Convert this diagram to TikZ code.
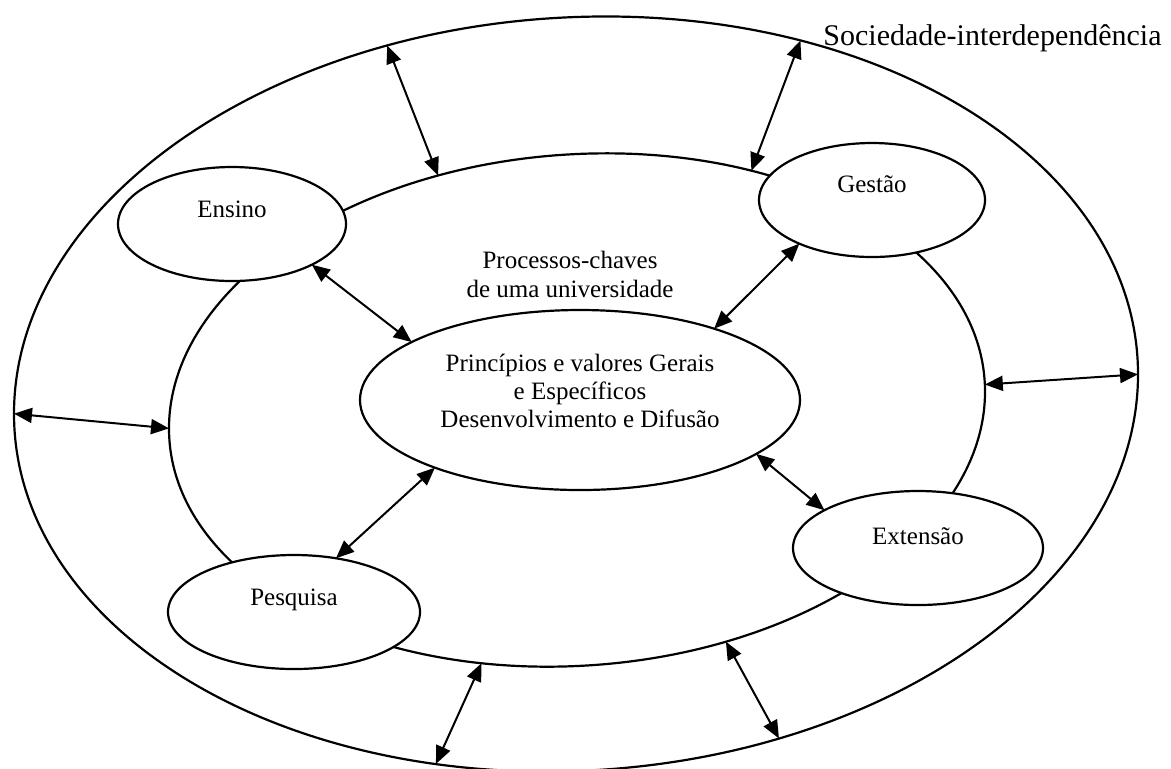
\documentclass[tikz,border=0pt]{standalone}
\usepackage{fontspec}
\setmainfont{Liberation Serif}
\usetikzlibrary{shapes.geometric, arrows.meta}

\tikzset{
	orb/.style={draw, ellipse, line width=1.1pt, inner sep=0pt, outer sep=0pt},
	proc/.style={orb, fill=white, minimum height=57pt},
	lbl/.style={font=\fontsize{12.5}{14}\selectfont, align=center, inner sep=0pt},
	dup/.style={{Triangle[length=9pt,width=7.5pt]}-{Triangle[length=9pt,width=7.5pt]}, line width=1pt},
}

\begin{document}
\begin{tikzpicture}[x=0.5pt, y=-0.5pt]
			\useasboundingbox (0,0) rectangle (1171,768);
			% rings
			\node[orb, minimum width=562pt, minimum height=377pt, yslant=0.035] (soc) at (576,394) {};
			\node[orb, minimum width=408pt, minimum height=256pt, yslant=0.045] (univ) at (577,410) {};
			\node[font=\fontsize{15}{18}\selectfont, anchor=base west, inner sep=0pt] (titulo) at (823,45) {Sociedade-interdependência};
			\node[lbl, font=\fontsize{12.5}{14.5}\selectfont] (chave) at (570,274) {Processos-chaves\\de uma universidade};
			% core
			\node[orb, minimum width=220pt, minimum height=90pt,
				label={[lbl, yshift=4.75pt]center:Princípios e valores Gerais\\e Específicos\\Desenvolvimento e Difusão}] (core) at (580,400) {};
			% processes
			\node[proc, minimum width=114pt, label={[lbl, yshift=7.5pt]center:Ensino}] (ensino) at (232,224) {};
			\node[proc, minimum width=113pt, label={[lbl, yshift=8pt]center:Gestão}] (gestao) at (872,200) {};
			\node[proc, minimum width=126pt, label={[lbl, yshift=6pt]center:Pesquisa}] (pesquisa) at (294,612) {};
			\node[proc, minimum width=125pt, label={[lbl, yshift=6pt]center:Extensão}] (extensao) at (918,548) {};
			% arrows
			\draw[dup] (soc.118) -- (univ.120);
			\draw[dup] (soc.57) -- (univ.53);
			\draw[dup] (soc.180) -- (univ.180);
			\draw[dup] (univ.1) -- (soc.0);
			\draw[dup] (univ.-111) -- (soc.-111);
			\draw[dup] (univ.-58) -- (soc.-60);
			\draw[dup] (ensino.-27) -- (core.161);
			\draw[dup] (gestao.211) -- (core.28);
			\draw[dup] (pesquisa.52) -- (core.205);
			\draw[dup] (core.-17) -- (extensao.158);
		\end{tikzpicture}
\end{document}
